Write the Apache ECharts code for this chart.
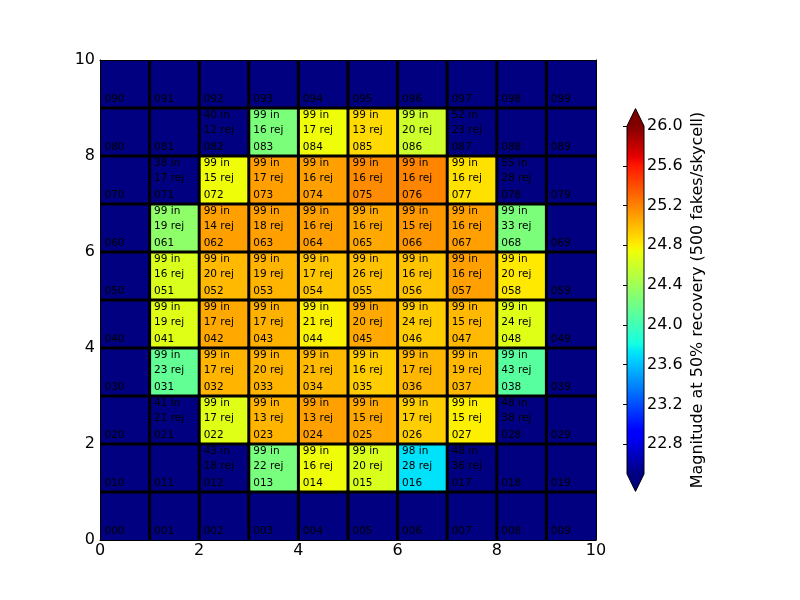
<!DOCTYPE html>
<html>
<head>
<meta charset="utf-8">
<script src="https://cdn.jsdelivr.net/npm/echarts@6.0.0/dist/echarts.min.js"></script>
<style>
html,body{margin:0;padding:0;background:#fff;}
#chart{width:800px;height:600px;}
</style>
</head>
<body>
<div id="chart"></div>
<script>
// ---------- data (rows listed top to bottom: y = 9 ... 0, columns x = 0 ... 9) ----------
const CB_MIN = 22.5, CB_MAX = 26.0;
const cbTicks = [22.8, 23.2, 23.6, 24.0, 24.4, 24.8, 25.2, 25.6, 26.0];
const cbLabel = 'Magnitude at 50% recovery (500 fakes/skycell)';

const mag9 = [null, null, null, null, null, null, null, null, null, null];
const mag8 = [null, null, null, 24.25, 24.74, 24.88, 24.59, null, null, null];
const mag7 = [null, null, 24.74, 25.09, 25.09, 25.17, 25.19, 24.85, null, null];
const mag6 = [null, 24.33, 25.09, 25.09, 25.09, 25.06, 25.12, 25.09, 24.25, null];
const mag5 = [null, 24.65, 25.00, 25.02, 24.95, 24.97, 24.96, 25.09, 24.82, null];
const mag4 = [null, 24.68, 25.06, 25.03, 24.79, 25.06, 24.93, 25.00, 24.68, null];
const mag3 = [null, 24.14, 25.02, 25.02, 25.00, 24.93, 25.01, 25.00, 24.10, null];
const mag2 = [null, null, 24.68, 25.02, 25.09, 25.06, 24.92, 24.80, null, null];
const mag1 = [null, null, null, 24.24, 24.74, 24.65, 23.71, null, null, null];
const mag0 = [null, null, null, null, null, null, null, null, null, null];

const in9 = [null, null, null, null, null, null, null, null, null, null];
const in8 = [null, null, 40, 99, 99, 99, 99, 52, null, null];
const in7 = [null, 38, 99, 99, 99, 99, 99, 99, 55, null];
const in6 = [null, 99, 99, 99, 99, 99, 99, 99, 99, null];
const in5 = [null, 99, 99, 99, 99, 99, 99, 99, 99, null];
const in4 = [null, 99, 99, 99, 99, 99, 99, 99, 99, null];
const in3 = [null, 99, 99, 99, 99, 99, 99, 99, 99, null];
const in2 = [null, 41, 99, 99, 99, 99, 99, 99, 48, null];
const in1 = [null, null, 43, 99, 99, 99, 98, 48, null, null];
const in0 = [null, null, null, null, null, null, null, null, null, null];

const rej9 = [null, null, null, null, null, null, null, null, null, null];
const rej8 = [null, null, 12, 16, 17, 13, 20, 23, null, null];
const rej7 = [null, 17, 15, 17, 16, 16, 16, 16, 28, null];
const rej6 = [null, 19, 14, 18, 16, 16, 15, 16, 33, null];
const rej5 = [null, 16, 20, 19, 17, 26, 16, 16, 20, null];
const rej4 = [null, 19, 17, 17, 21, 20, 24, 15, 24, null];
const rej3 = [null, 23, 17, 20, 21, 16, 17, 19, 43, null];
const rej2 = [null, 21, 17, 13, 13, 15, 17, 15, 38, null];
const rej1 = [null, null, 18, 22, 16, 20, 28, 36, null, null];
const rej0 = [null, null, null, null, null, null, null, null, null, null];

const magRows = [mag0, mag1, mag2, mag3, mag4, mag5, mag6, mag7, mag8, mag9];
const inRows  = [in0, in1, in2, in3, in4, in5, in6, in7, in8, in9];
const rejRows = [rej0, rej1, rej2, rej3, rej4, rej5, rej6, rej7, rej8, rej9];

// ---------- jet colormap ----------
const JET = {
  r: [[0, 0], [0.35, 0], [0.66, 1], [0.89, 1], [1, 0.5]],
  g: [[0, 0], [0.125, 0], [0.375, 1], [0.64, 1], [0.91, 0], [1, 0]],
  b: [[0, 0.5], [0.11, 1], [0.34, 1], [0.65, 0], [1, 0]]
};
function segInterp(seg, t) {
  for (let i = 1; i < seg.length; i++) {
    if (t <= seg[i][0]) {
      const a = seg[i - 1], b = seg[i];
      return a[1] + (b[1] - a[1]) * (t - a[0]) / (b[0] - a[0]);
    }
  }
  return seg[seg.length - 1][1];
}
function jet(t) {
  const c = k => Math.round(255 * segInterp(JET[k], t));
  return 'rgb(' + c('r') + ',' + c('g') + ',' + c('b') + ')';
}
const NS = 128;
const jetColors = [];
for (let i = 0; i <= NS; i++) jetColors.push(jet(i / NS));
const jetStops = [];
for (let i = 0; i <= NS; i++) jetStops.push({ offset: i / NS, color: jet(1 - i / NS) });
const UNDER_COLOR = jet(0), OVER_COLOR = jet(1);

// ---------- build cell table ----------
const cells = [];
for (let y = 0; y < 10; y++) {
  for (let x = 0; x < 10; x++) {
    const m = magRows[y][x], ni = inRows[y][x], nr = rejRows[y][x];
    cells.push([x, y, m == null ? '-' : m, ni == null ? '-' : ni, nr == null ? '-' : nr]);
  }
}

const FONT = 'DejaVu Sans';

function renderCell(params, api) {
  const x = api.value(0), y = api.value(1), v = api.value(2);
  const ni = api.value(3), nr = api.value(4);
  const p0 = api.coord([x, y + 1]);
  const p1 = api.coord([x + 1, y]);
  const fill = isNaN(v) ? UNDER_COLOR : api.visual('color');
  const children = [{
    type: 'rect',
    shape: { x: p0[0], y: p0[1], width: p1[0] - p0[0], height: p1[1] - p0[1] },
    style: { fill: fill },
    z2: 0
  }];
  if (x > 0) {
    children.push({ type: 'line', z2: 10,
      shape: { x1: p0[0], y1: p0[1], x2: p0[0], y2: p1[1] },
      style: { stroke: '#000', lineWidth: 3 } });
  }
  if (y > 0) {
    const ext0 = x > 0 ? 1.5 : 0, ext1 = x < 9 ? 1.5 : 0;
    children.push({ type: 'line', z2: 10,
      shape: { x1: p0[0] - ext0, y1: p1[1], x2: p1[0] + ext1, y2: p1[1] },
      style: { stroke: '#000', lineWidth: 3 } });
  }
  const tx = x + 0.09;
  const id = '0' + y + x;
  const lab = (txt, yy) => {
    const p = api.coord([tx, yy]);
    return { type: 'text', z2: 20,
      style: { text: txt, x: p[0], y: p[1], fill: '#000', fontSize: 10.5, fontFamily: FONT,
               align: 'left', verticalAlign: 'middle' } };
  };
  children.push(lab(id, y + 0.19));
  if (!isNaN(ni)) children.push(lab(ni + ' in', y + 0.84));
  if (!isNaN(nr)) children.push(lab(nr + ' rej', y + 0.54));
  return { type: 'group', children: children };
}

function renderColorbar(params, api) {
  const pt = api.coord([0, CB_MAX]);
  const pb = api.coord([1, CB_MIN]);
  const l = pt[0], r = pb[0], top = pt[1], bot = pb[1];
  const mid = (l + r) / 2;
  const ext = 0.05 * (bot - top);
  return { type: 'group', children: [
    { type: 'rect', shape: { x: l, y: top, width: r - l, height: bot - top },
      style: { fill: new echarts.graphic.LinearGradient(0, 0, 0, 1, jetStops) }, z2: 0 },
    { type: 'polygon', shape: { points: [[l, top], [r, top], [mid, top - ext]] },
      style: { fill: OVER_COLOR }, z2: 0 },
    { type: 'polygon', shape: { points: [[l, bot], [r, bot], [mid, bot + ext]] },
      style: { fill: UNDER_COLOR }, z2: 0 },
    { type: 'polygon',
      shape: { points: [[l, top], [mid, top - ext], [r, top], [r, bot], [mid, bot + ext], [l, bot]] },
      style: { fill: null, stroke: '#000', lineWidth: 1 }, z2: 5 }
  ]};
}

const axisLineStyle = { show: true, onZero: false, lineStyle: { color: '#000', width: 1 } };
const tickStyle = { show: true, inside: true, length: 4, lineStyle: { color: '#000', width: 1 } };
const labelStyle = { color: '#000', fontSize: 16, fontFamily: FONT };

const chart = echarts.init(document.getElementById('chart'), null, { renderer: 'canvas' });
chart.setOption({
  backgroundColor: '#fff',
  animation: false,
  grid: [
    { left: 100, top: 60, width: 496, height: 480 },
    { left: 627, top: 126, width: 17, height: 348 }
  ],
  xAxis: [
    { gridIndex: 0, type: 'value', min: 0, max: 10, interval: 2, position: 'bottom', z: 5,
      axisLine: axisLineStyle, axisTick: tickStyle, splitLine: { show: false },
      axisLabel: Object.assign({ margin: 3 }, labelStyle) },
    { gridIndex: 0, type: 'value', min: 0, max: 10, interval: 2, position: 'top', z: 5,
      axisLine: axisLineStyle, axisTick: tickStyle, splitLine: { show: false },
      axisLabel: { show: false } },
    { gridIndex: 1, type: 'value', min: 0, max: 1, show: false }
  ],
  yAxis: [
    { gridIndex: 0, type: 'value', min: 0, max: 10, interval: 2, position: 'left', z: 5,
      axisLine: axisLineStyle, axisTick: tickStyle, splitLine: { show: false },
      axisLabel: Object.assign({ margin: 5 }, labelStyle) },
    { gridIndex: 0, type: 'value', min: 0, max: 10, interval: 2, position: 'right', z: 5,
      axisLine: axisLineStyle, axisTick: tickStyle, splitLine: { show: false },
      axisLabel: { show: false } },
    { gridIndex: 1, type: 'value', min: CB_MIN, max: CB_MAX, position: 'right', z: 5,
      axisLine: { show: false },
      axisTick: Object.assign({ customValues: cbTicks }, tickStyle),
      splitLine: { show: false },
      axisLabel: Object.assign({ margin: 3, customValues: cbTicks,
        formatter: v => Number(v).toFixed(1) }, labelStyle),
      name: cbLabel, nameLocation: 'middle', nameRotate: 90, nameGap: 46,
      nameTextStyle: { color: '#000', fontSize: 16, fontFamily: FONT } }
  ],
  visualMap: {
    type: 'continuous', show: false, min: CB_MIN, max: CB_MAX, dimension: 2,
    seriesIndex: 0, inRange: { color: jetColors }, outOfRange: { color: UNDER_COLOR }
  },
  series: [
    { type: 'custom', xAxisIndex: 0, yAxisIndex: 0, renderItem: renderCell,
      encode: { x: 0, y: 1 }, data: cells, silent: true },
    { type: 'custom', xAxisIndex: 2, yAxisIndex: 2, renderItem: renderColorbar,
      data: [[0, CB_MIN]], silent: true, clip: false }
  ]
});
</script>
</body>
</html>
